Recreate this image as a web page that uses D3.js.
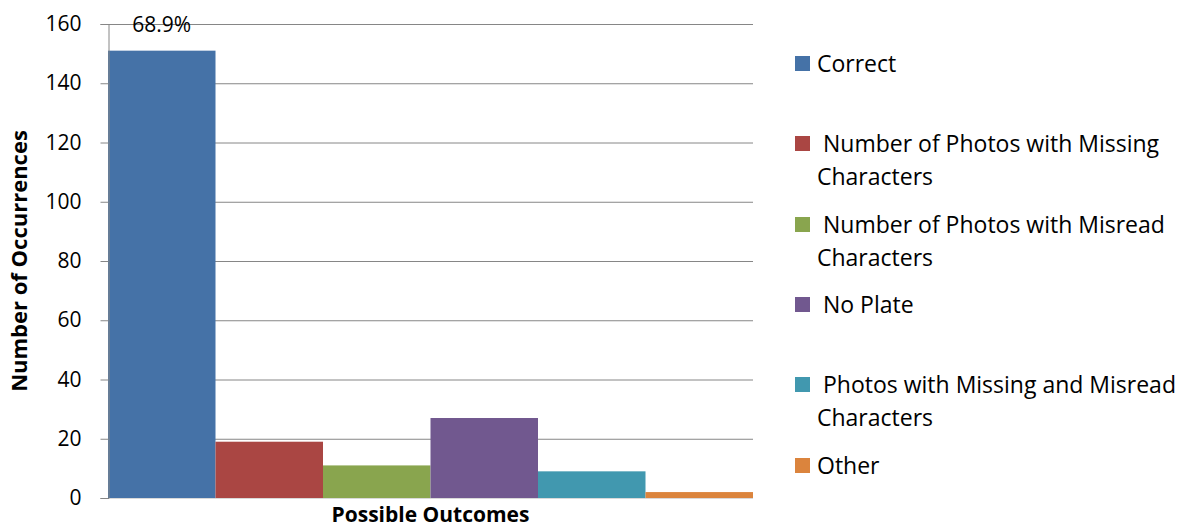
<!DOCTYPE html>
<html>
<head>
<meta charset="utf-8">
<script src="https://cdn.jsdelivr.net/npm/d3@7"></script>
<style>
html,body{margin:0;padding:0;background:#fff;}
text{font-family:"Open Sans",sans-serif;fill:#000;}
</style>
</head>
<body>
<svg id="chart" width="1185" height="530"></svg>
<script>
const categories = ["Correct", " Number of Photos with Missing Characters", " Number of Photos with Misread Characters", " No Plate", " Photos with Missing and Misread Characters", "Other"];
const legendLines = [["Correct"], [" Number of Photos with Missing", "Characters"], [" Number of Photos with Misread", "Characters"], [" No Plate"], [" Photos with Missing and Misread", "Characters"], ["Other"]];
const values = [151, 19, 11, 27, 9, 2];
const colors = ["#4572A7", "#AA4643", "#89A54E", "#71588F", "#4198AF", "#DB843D"];
const yTicks = [0, 20, 40, 60, 80, 100, 120, 140, 160];
const dataLabels = ["68.9%", null, null, null, null, null];
const legendY = [64, 144, 225, 305, 385, 466];

const svg = d3.select("#chart");
const pLeft = 108, pRight = 753, pTop = 24, pBottom = 498;

const x = d3.scaleBand().domain(categories).range([pLeft, pRight]).padding(0);
const y = d3.scaleLinear().domain([0, 160]).range([pBottom, pTop]);

// gridlines
svg.append("g").selectAll("line").data(yTicks.filter(d => d > 0)).join("line")
  .attr("x1", pLeft).attr("x2", pRight)
  .attr("y1", d => y(d) + 0.5).attr("y2", d => y(d) + 0.5)
  .attr("stroke", "#868686").attr("stroke-width", 1);

// bars
svg.append("g").selectAll("rect").data(values).join("rect")
  .attr("x", (d, i) => x(categories[i]))
  .attr("width", x.bandwidth())
  .attr("y", d => y(d))
  .attr("height", d => pBottom - y(d))
  .attr("fill", (d, i) => colors[i]);

// x axis baseline
svg.append("line").attr("x1", pLeft).attr("x2", pRight)
  .attr("y1", pBottom + 0.5).attr("y2", pBottom + 0.5)
  .attr("stroke", "#d9d9d9").attr("stroke-width", 1);

// y axis
const yAxis = d3.axisLeft(y).tickValues(yTicks).tickSize(8).tickPadding(19);
const gy = svg.append("g").attr("transform", `translate(${pLeft + 0.5},0)`).call(yAxis);
gy.select(".domain").attr("stroke", "#868686");
gy.selectAll(".tick line").attr("stroke", "#868686");
gy.selectAll(".tick text").attr("font-size", 21).attr("font-family", "Open Sans").attr("fill", "#000");

// data label
svg.append("g").selectAll("text").data(values).join("text")
  .filter((d, i) => dataLabels[i])
  .attr("x", (d, i) => x(categories[i]) + x.bandwidth() / 2)
  .attr("y", 32)
  .attr("text-anchor", "middle")
  .attr("font-size", 21)
  .text((d, i) => dataLabels[i]);

// axis titles
svg.append("text")
  .attr("transform", `translate(27,${(pTop + pBottom) / 2}) rotate(-90)`)
  .attr("text-anchor", "middle")
  .attr("font-size", 22).attr("font-weight", "bold")
  .text("Number of Occurrences");
svg.append("text")
  .attr("x", (pLeft + pRight) / 2).attr("y", 522)
  .attr("text-anchor", "middle")
  .attr("font-size", 21).attr("font-weight", "bold")
  .text("Possible Outcomes");

// legend
const lg = svg.append("g").selectAll("g").data(categories).join("g")
  .attr("transform", (d, i) => `translate(795,${legendY[i]})`);
lg.append("rect").attr("x", 0).attr("y", -8).attr("width", 15).attr("height", 15)
  .attr("fill", (d, i) => colors[i]);
lg.append("text").attr("x", 22).attr("y", 8).attr("font-size", 23)
  .attr("xml:space", "preserve")
  .style("white-space", "pre")
  .selectAll("tspan").data((d, i) => legendLines[i]).join("tspan")
  .attr("x", 22).attr("dy", (d, j) => j === 0 ? 0 : 33)
  .text(d => d);
</script>
</body>
</html>
